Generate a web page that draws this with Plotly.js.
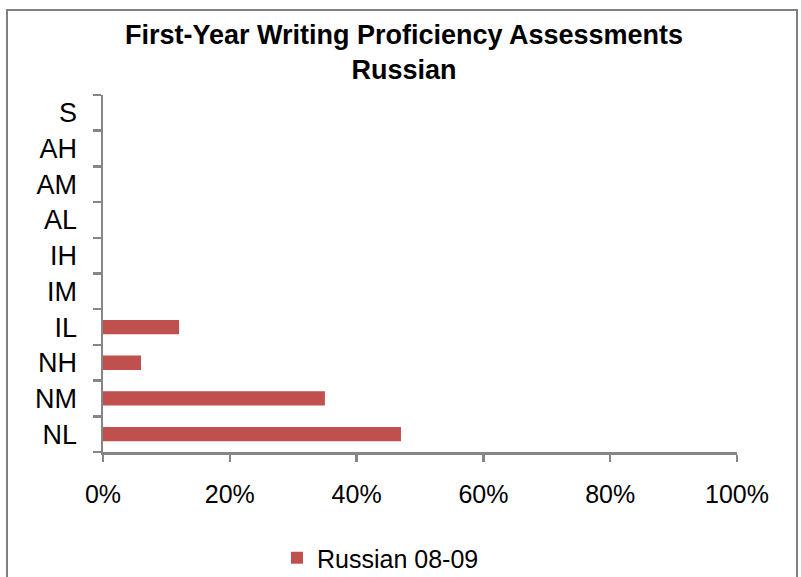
<!DOCTYPE html>
<html>
<head>
<meta charset="utf-8">
<script src="https://cdn.plot.ly/plotly-3.0.1.min.js"></script>
<style>
html,body{margin:0;padding:0;background:#fff;}
#chart{width:801px;height:577px;}
</style>
</head>
<body>
<div id="chart"></div>
<script>
const categories = ["NL", "NM", "NH", "IL", "IM", "IH", "AL", "AM", "AH", "S"];
const russian0809 = [0.47, 0.35, 0.06, 0.12, 0, 0, 0, 0, 0, 0];
const xTickVals = [0, 0.2, 0.4, 0.6, 0.8, 1.0];
const xTickText = ["0%", "20%", "40%", "60%", "80%", "100%"];
const seriesName = "Russian 08-09";
const titleLines = ["First-Year Writing Proficiency Assessments", "Russian"];

const font = "Liberation Sans, Arial, sans-serif";
const axisColor = "#868686";

const trace = {
  type: "bar",
  orientation: "h",
  y: categories,
  x: russian0809,
  name: seriesName,
  marker: {color: "#C0504D", line: {width: 0}},
  showlegend: true,
  hoverinfo: "x+y"
};

const L = 103, R = 737, T = 95, B = 452;
const W = 801, H = 577;
const pw = R - L, ph = B - T;
function px(x){ return (x - L) / pw; }
function py(y){ return (B - y) / ph; }

const layout = {
  width: W, height: H,
  margin: {l: L, r: W - R, t: T, b: H - B, pad: 0, autoexpand: false},
  paper_bgcolor: "#fff",
  plot_bgcolor: "#fff",
  font: {family: font, size: 22, color: "#000"},
  title: {
    text: titleLines.map(s => "<b>" + s + "</b>").join("<br>"),
    font: {family: font, size: 27, color: "#000"},
    x: 404 / W, xref: "container", xanchor: "center",
    y: 1 - 44 / H, yref: "container", yanchor: "middle"
  },
  bargap: 0.6,
  xaxis: {
    range: [0, 1],
    tickvals: xTickVals,
    ticktext: xTickText,
    showgrid: false,
    zeroline: false,
    showline: true,
    automargin: false,
    linecolor: axisColor,
    linewidth: 2.5,
    ticks: "outside",
    ticklen: 7,
    tickwidth: 2.5,
    tickcolor: axisColor,
    ticklabelstandoff: 11,
    tickfont: {family: font, size: 25, color: "#000"},
    fixedrange: true
  },
  yaxis: {
    type: "category",
    categoryorder: "array",
    categoryarray: categories,
    range: [-0.5, categories.length - 0.5],
    showgrid: false,
    zeroline: false,
    showline: true,
    automargin: false,
    linecolor: axisColor,
    linewidth: 2.5,
    ticks: "outside",
    tickson: "boundaries",
    ticklen: 8,
    tickwidth: 2.5,
    tickcolor: axisColor,
    ticklabelstandoff: 18,
    tickfont: {family: font, size: 27, color: "#000"},
    fixedrange: true
  },
  legend: {
    orientation: "h",
    xref: "container", yref: "container",
    x: 277 / W, xanchor: "left",
    y: 1 - 558 / H, yanchor: "middle",
    font: {family: font, size: 25, color: "#000"},
    bgcolor: "rgba(0,0,0,0)"
  },
  shapes: [{
    type: "rect", xref: "paper", yref: "paper",
    x0: px(7), x1: px(797), y0: py(610), y1: py(10),
    line: {color: "#7f7f7f", width: 2},
    fillcolor: "rgba(0,0,0,0)", layer: "below"
  }]
};

Plotly.newPlot("chart", [trace], layout, {displayModeBar: false, staticPlot: true});
</script>
</body>
</html>
